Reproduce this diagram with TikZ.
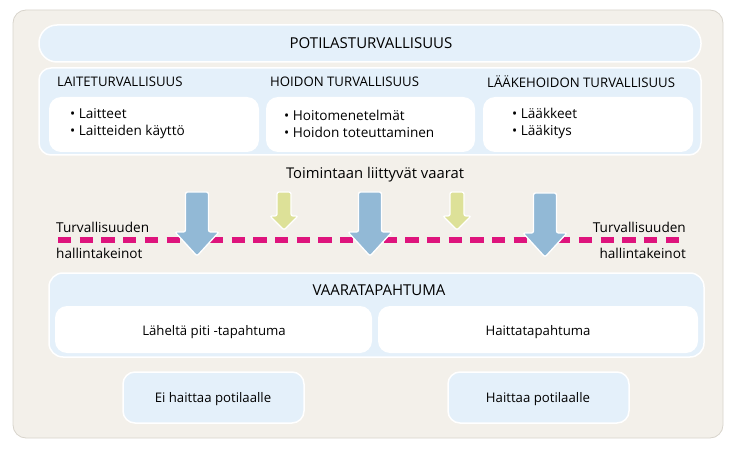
\documentclass[tikz,border=0pt]{standalone}
\usepackage{fontspec}
\setmainfont{Open Sans}
\definecolor{framebeige}{RGB}{243,240,234}
\definecolor{frameline}{RGB}{216,212,204}
\definecolor{paleblue}{RGB}{228,240,250}
\definecolor{arrowblue}{RGB}{146,185,214}
\definecolor{arrowyellow}{RGB}{221,225,152}
\definecolor{linemagenta}{RGB}{222,20,125}
\def\droparrow[#1](#2,#3)(#4:#5:#6:#7){\draw[#1] (#2-#4,#3) -- (#2+#4,#3) -- (#2+#4,#6) -- (#2+#5,#6) -- (#2,#7) -- (#2-#5,#6) -- (#2-#4,#6) -- cycle;}
\tikzset{
	panel/.style={fill=paleblue, draw=white, line width=1.5pt, rounded corners=12pt},
	card/.style={fill=white, draw=none, rounded corners=12pt},
	hazardblue/.style={fill=arrowblue, draw=white, line width=1.3pt, rounded corners=2pt},
	hazardyellow/.style={fill=arrowyellow, draw=white, line width=1.3pt, rounded corners=2pt},
	barrier/.style={draw=linemagenta, line width=5.5pt, dash pattern=on 13.3pt off 8.4pt},
	title/.style={font=\fontsize{15}{17}\selectfont, inner sep=0pt},
	head/.style={font=\fontsize{13.2}{15}\selectfont, inner sep=0pt, anchor=west},
	items/.style={font=\fontsize{13.6}{17}\selectfont, inner sep=0pt, anchor=west, align=left},
	plain/.style={font=\fontsize{13.6}{16}\selectfont, inner sep=0pt},
	small/.style={font=\fontsize{13.2}{15}\selectfont, inner sep=0pt}
}

\begin{document}
\begin{tikzpicture}[x=1pt, y=-1pt]
		%%%%% START %%%%%
		\useasboundingbox (0,0) rectangle (733,449);
		
		\draw[fill=framebeige, draw=frameline, line width=0.8pt, rounded corners=13pt] (13,10) rectangle (723,438);
		
		% top of the picture
		\draw[panel, rounded corners=18pt] (39,25) rectangle (701,62);
		\node[title] (patient) at (371,43.5) {POTILASTURVALLISUUS};
		
		\draw[panel] (39,68) rectangle (701,155);
		\node[head] (device) at (57,81.5) {LAITETURVALLISUUS};
		\node[head] (care) at (270,81.5) {HOIDON TURVALLISUUS};
		\node[head] (drug) at (487,81.5) {LÄÄKEHOIDON TURVALLISUUS};
		
		\draw[card] (49,97) rectangle (259,152);
		\draw[card] (266,97) rectangle (475,152);
		\draw[card] (483,97) rectangle (693,152);
		\node[items] (devicelist) at (70,123.5) {\textbullet\ Laitteet\\\textbullet\ Laitteiden käyttö};
		\node[items] (carelist) at (284,123.5) {\textbullet\ Hoitomenetelmät\\\textbullet\ Hoidon toteuttaminen};
		\node[items] (druglist) at (512,123.5) {\textbullet\ Lääkkeet\\\textbullet\ Lääkitys};
		
		% hazards and barrier
		\node[plain, font=\fontsize{14.8}{17}\selectfont] (hazards) at (375,175) {Toimintaan liittyvät vaarat};
		
		\draw[barrier] (58,240) -- (685,240);
		
		\droparrow[hazardblue](197,192)(11.5:22:232:256);
		\droparrow[hazardblue](370,192)(11.5:22:232:256);
		\droparrow[hazardblue](545,193)(11.5:22:233:257);
		\droparrow[hazardyellow](284,192)(7:14:216:230);
		\droparrow[hazardyellow](457,192)(7:14:216:230);
		
		\node[plain, anchor=west] (leftctrl) at (56,227) {Turvallisuuden};
		\node[plain, anchor=west] (leftmeans) at (56,253) {hallintakeinot};
		\node[plain, anchor=east] (rightctrl) at (686,227) {Turvallisuuden};
		\node[plain, anchor=east] (rightmeans) at (686,253) {hallintakeinot};
		
		% bottom of the picture
		\draw[panel, rounded corners=14pt] (49,273) rectangle (704,357);
		\node[title] (event) at (379,290) {VAARATAPAHTUMA};
		
		\draw[card] (55,306) rectangle (372,353);
		\draw[card] (378,306) rectangle (698,353);
		\node[small] (nearmiss) at (214,332.5) {Läheltä piti -tapahtuma};
		\node[small] (adverse) at (538,332.5) {Haittatapahtuma};
		
		\draw[panel] (123,372) rectangle (304,423);
		\draw[panel] (448,372) rectangle (629,423);
		\node[small] (noharm) at (213,399) {Ei haittaa potilaalle};
		\node[small] (harm) at (538,399) {Haittaa potilaalle};
		
		%%%%% END %%%%%
	\end{tikzpicture}
\end{document}
